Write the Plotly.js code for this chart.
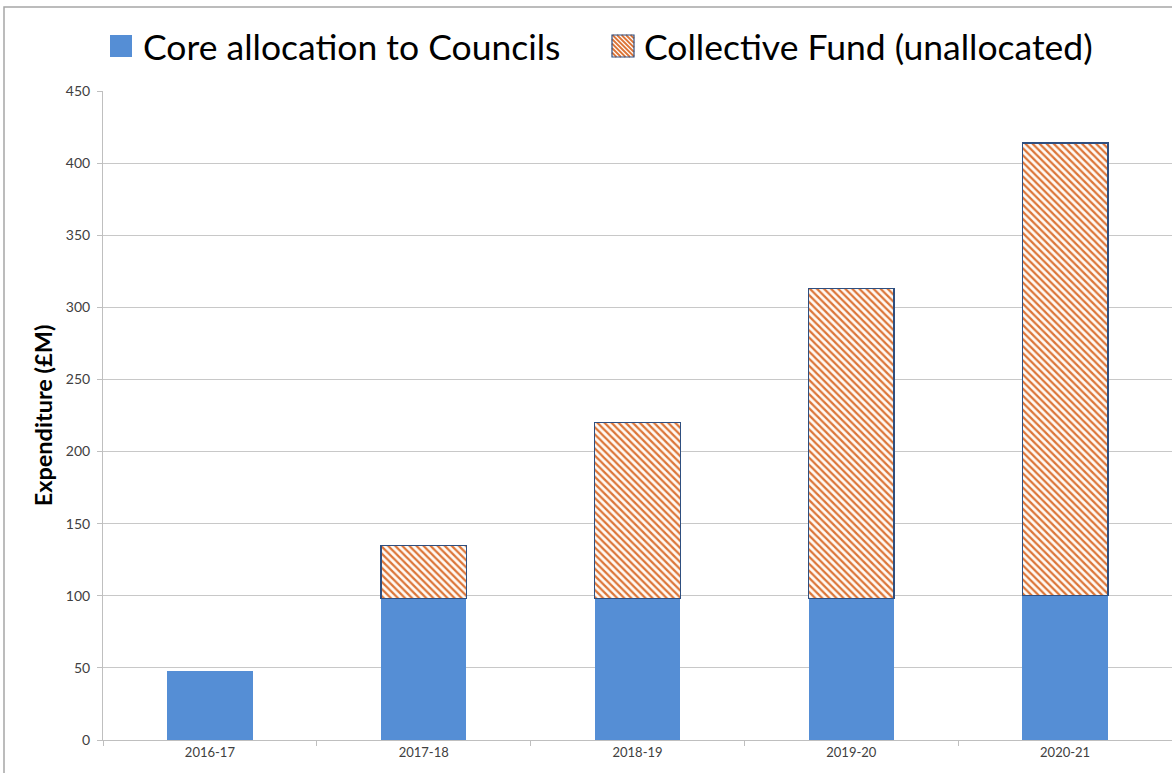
<!DOCTYPE html>
<html>
<head>
<meta charset="utf-8">
<script src="https://cdn.plot.ly/plotly-3.0.1.min.js"></script>
<style>html,body{margin:0;padding:0;background:#fff;}#chart{width:1172px;height:773px;}</style>
</head>
<body>
<div id="chart"></div>
<script>
// ---- data ----
var categories = ['2016-17', '2017-18', '2018-19', '2019-20', '2020-21'];
var coreAllocation = [48, 98, 98, 98, 100];
var collectiveFund = [null, 37, 122, 215, 314];
var seriesNames = ['Core allocation to Councils', 'Collective Fund (unallocated)'];
var yTicks = [0, 50, 100, 150, 200, 250, 300, 350, 400, 450];

// ---- style ----
var BLUE = '#558ed5';
var ORANGE = '#dc7538';
var NAVY = '#2f4f80';
var FONT = 'Lato, "Open Sans", sans-serif';

var traces = [
  {
    type: 'bar', name: seriesNames[0], x: categories, y: coreAllocation,
    marker: {color: BLUE, line: {color: BLUE, width: 0}},
    showlegend: false, hoverinfo: 'x+y+name'
  },
  {
    type: 'bar', name: seriesNames[1], x: categories, y: collectiveFund,
    marker: {
      color: '#ffffff',
      pattern: {shape: '\\', fgcolor: ORANGE, bgcolor: '#fffaf5', size: 5, solidity: 0.45, fillmode: 'replace'},
      line: {color: NAVY, width: 1.3}
    },
    showlegend: false, hoverinfo: 'x+y+name'
  }
];

var shapes = [];
function pxRect(x0, x1, y0, y1, fill, line) {
  return {type: 'rect', xref: 'paper', yref: 'paper', xsizemode: 'pixel', ysizemode: 'pixel',
    xanchor: 0, yanchor: 1, x0: x0, x1: x1, y0: y0, y1: y1,
    fillcolor: fill, line: line, layer: 'above'};
}
// chart frame
shapes.push({type: 'rect', xref: 'paper', yref: 'paper', xsizemode: 'pixel', ysizemode: 'pixel',
  xanchor: 0, yanchor: 1, x0: -99, x1: 1100, y0: -700, y1: 84,
  fillcolor: 'rgba(0,0,0,0)', line: {color: '#a6a6a6', width: 1.5}, layer: 'below'});
// legend symbol 1
shapes.push(pxRect(7, 29, 34, 56, BLUE, {width: 0}));
// legend symbol 2 (hatched)
var hx0 = 509, hx1 = 531, hy0 = 34, hy1 = 56, step = 4.5;
shapes.push(pxRect(hx0, hx1, hy0, hy1, '#ffffff', {width: 0}));
var p = '';
var S = hx1 - hx0;
for (var c = -S; c <= S; c += step) {
  var t0 = Math.max(0, -c), t1 = Math.min(S, S - c);
  if (t1 <= t0) continue;
  p += 'M' + (hx0 + t0 + c) + ',' + (hy1 - t0) + 'L' + (hx0 + t1 + c) + ',' + (hy1 - t1);
}
shapes.push({type: 'path', xref: 'paper', yref: 'paper', xsizemode: 'pixel', ysizemode: 'pixel',
  xanchor: 0, yanchor: 1, path: p, line: {color: ORANGE, width: 1.8}, layer: 'above'});
shapes.push(pxRect(hx0, hx1, hy0, hy1, 'rgba(0,0,0,0)', {color: NAVY, width: 1.2}));

var annotations = [
  {xref: 'paper', yref: 'paper', x: 38 / 1069, y: 1, yshift: 45, xanchor: 'left', yanchor: 'middle',
   text: seriesNames[0], showarrow: false, font: {family: FONT, size: 35.5, color: '#000000'}},
  {xref: 'paper', yref: 'paper', x: 539 / 1069, y: 1, yshift: 45, xanchor: 'left', yanchor: 'middle',
   text: seriesNames[1], showarrow: false, font: {family: FONT, size: 35.5, color: '#000000'}}
];

var layout = {
  width: 1172, height: 773,
  margin: {l: 103, r: 0, t: 91, b: 33, pad: 0},
  paper_bgcolor: '#ffffff', plot_bgcolor: '#ffffff',
  barmode: 'stack', bargap: 0.6,
  font: {family: FONT, color: '#595959'},
  xaxis: {
    type: 'category', showgrid: false, showline: true, linecolor: '#bfbfbf', linewidth: 1,
    ticks: 'outside', tickson: 'boundaries', ticklen: 5, tickcolor: '#bfbfbf',
    tickfont: {family: FONT, size: 13, color: '#404040'}, zeroline: false
  },
  yaxis: {
    range: [0, 450], tickvals: yTicks, showgrid: true, gridcolor: '#c8c8c8', gridwidth: 1,
    showline: true, linecolor: '#bfbfbf', linewidth: 1, ticks: 'outside', ticklen: 5, tickcolor: '#bfbfbf',
    ticklabelstandoff: 4,
    tickfont: {family: FONT, size: 14, color: '#404040'}, zeroline: false,
    title: {text: 'Expenditure (£M)', standoff: 6, font: {family: FONT, size: 23.5, color: '#000000', weight: 'bold'}}
  },
  shapes: shapes,
  annotations: annotations,
  showlegend: false
};

Plotly.newPlot('chart', traces, layout, {displayModeBar: false, staticPlot: true});
</script>
</body>
</html>
